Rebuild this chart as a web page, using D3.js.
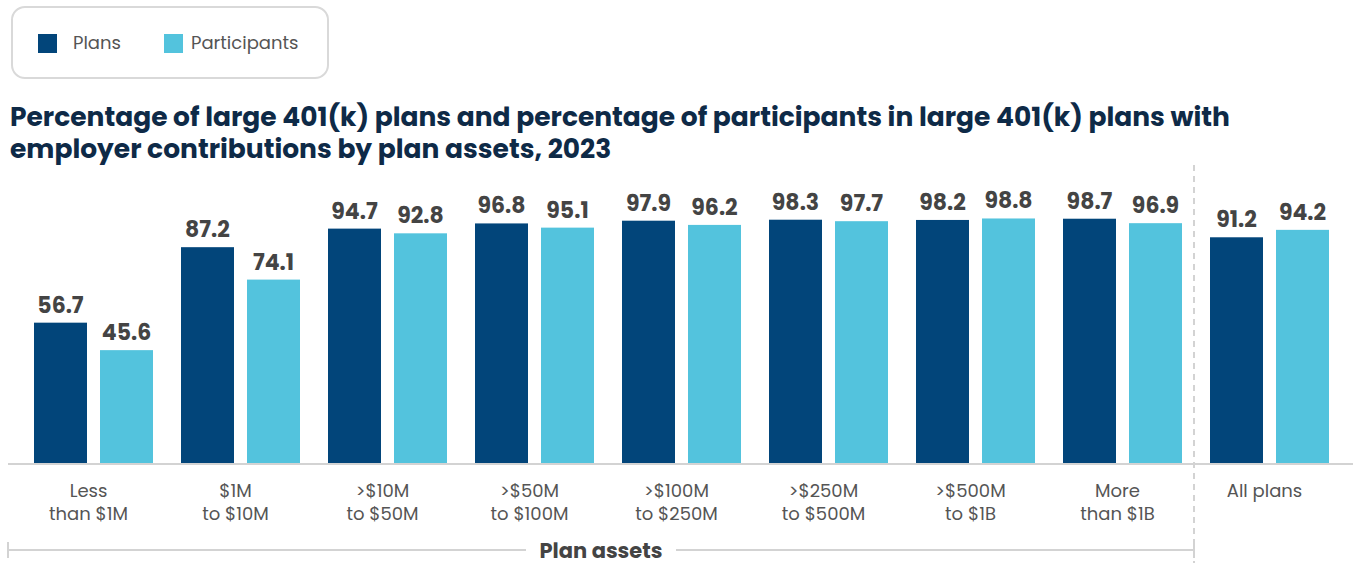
<!DOCTYPE html>
<html><head><meta charset="utf-8">
<script src="https://cdn.jsdelivr.net/npm/d3@7"></script>
<style>
html,body{margin:0;padding:0;background:#fff;}
svg{display:block;}
</style></head>
<body>
<svg id="chart" width="1353" height="563"></svg>
<script>
const categories = [
  ["Less","than $1M"],
  ["$1M","to $10M"],
  [">$10M","to $50M"],
  [">$50M","to $100M"],
  [">$100M","to $250M"],
  [">$250M","to $500M"],
  [">$500M","to $1B"],
  ["More","than $1B"],
  ["All plans"]
];
const seriesNames = ["Plans","Participants"];
const plans =        [56.7, 87.2, 94.7, 96.8, 97.9, 98.3, 98.2, 98.7, 91.2];
const participants = [45.6, 74.1, 92.8, 95.1, 96.2, 97.7, 98.8, 96.9, 94.2];
const colors = ["#02457a", "#53c3dd"];
const title = ["Percentage of large 401(k) plans and percentage of participants in large 401(k) plans with",
               "employer contributions by plan assets, 2023"];
const axisTitle = "Plan assets";

const FONT = "Poppins, 'Open Sans', Lato, sans-serif";
const svg = d3.select("#chart");
const keys = categories.map((c,i)=>"c"+i);
const data = keys.map((k,i)=>({key:k, lines:categories[i], values:[plans[i], participants[i]]}));

const x = d3.scaleBand().domain(keys).range([20, 20+147*9]).paddingInner(28/147).paddingOuter(14/147);
const xs = d3.scaleBand().domain(seriesNames).range([0, x.bandwidth()]).paddingInner(13/66).paddingOuter(0);
const y = d3.scaleLinear().domain([0,100]).range([463, 215.5]);

// Legend
svg.append("rect").attr("x",12).attr("y",7).attr("width",316).attr("height",71).attr("rx",13)
  .attr("fill","#fff").attr("stroke","#d9d9d9").attr("stroke-width",2);
const legX = [38,164];
const legTX = [73,191];
seriesNames.forEach((s,i)=>{
  svg.append("rect").attr("x",legX[i]).attr("y",34).attr("width",19).attr("height",19).attr("fill",colors[i]);
  svg.append("text").attr("x",legTX[i]).attr("y",49).text(s)
    .attr("font-family",FONT).attr("font-size",18).attr("fill","#555");
});

// Title
title.forEach((t,i)=>{
  svg.append("text").attr("x",10).attr("y",126+i*32).text(t)
    .attr("font-family",FONT).attr("font-size",26.5).attr("font-weight",700).attr("fill","#0e2a47");
});

// Axis baseline
svg.append("line").attr("x1",8).attr("x2",1353).attr("y1",464).attr("y2",464)
  .attr("stroke","#d3d3d3").attr("stroke-width",2);

// Separator
const sepX = x(keys[7]) + x.bandwidth() + (x.step()-x.bandwidth())/2 - 2;
svg.append("line").attr("x1",sepX).attr("x2",sepX).attr("y1",165).attr("y2",563)
  .attr("stroke","#d3d3d3").attr("stroke-width",2).attr("stroke-dasharray","6,5");

// Bars
const g = svg.selectAll("g.grp").data(data).join("g").attr("class","grp")
  .attr("transform",d=>`translate(${x(d.key)},0)`);
g.selectAll("rect").data(d=>d.values.map((v,j)=>({v, s:seriesNames[j], j})))
  .join("rect")
  .attr("x",d=>xs(d.s)).attr("width",xs.bandwidth())
  .attr("y",d=>y(d.v)).attr("height",d=>y(0)-y(d.v))
  .attr("fill",d=>colors[d.j]);
g.selectAll("text.val").data(d=>d.values.map((v,j)=>({v, s:seriesNames[j], j})))
  .join("text").attr("class","val")
  .attr("x",d=>xs(d.s)+xs.bandwidth()/2).attr("y",d=>y(d.v)-10)
  .attr("text-anchor","middle").text(d=>d3.format(".1f")(d.v))
  .attr("font-family",FONT).attr("font-size",22).attr("font-weight",700).attr("fill","#444");

// Category labels
g.each(function(d){
  const t = d3.select(this).append("text").attr("text-anchor","middle")
    .attr("font-family",FONT).attr("font-size",18).attr("fill","#555");
  d.lines.forEach((ln,i)=>{
    t.append("tspan").attr("x",x.bandwidth()/2-5).attr("y",497+i*23).text(ln);
  });
});

// Plan assets bracket
const bx0 = 8, bx1 = sepX;
const mid = (bx0+bx1)/2;
const bs = {stroke:"#d3d3d3", w:2};
[[bx0,mid-75,550,550],[mid+75,bx1,550,550],[bx0,bx0,542,558],[bx1,bx1,542,558]].forEach(c=>{
  svg.append("line").attr("x1",c[0]).attr("x2",c[1]).attr("y1",c[2]).attr("y2",c[3])
    .attr("stroke",bs.stroke).attr("stroke-width",bs.w);
});
svg.append("text").attr("x",mid).attr("y",558).attr("text-anchor","middle").text(axisTitle)
  .attr("font-family",FONT).attr("font-size",21).attr("font-weight",700).attr("fill","#444");
</script>
</body></html>
